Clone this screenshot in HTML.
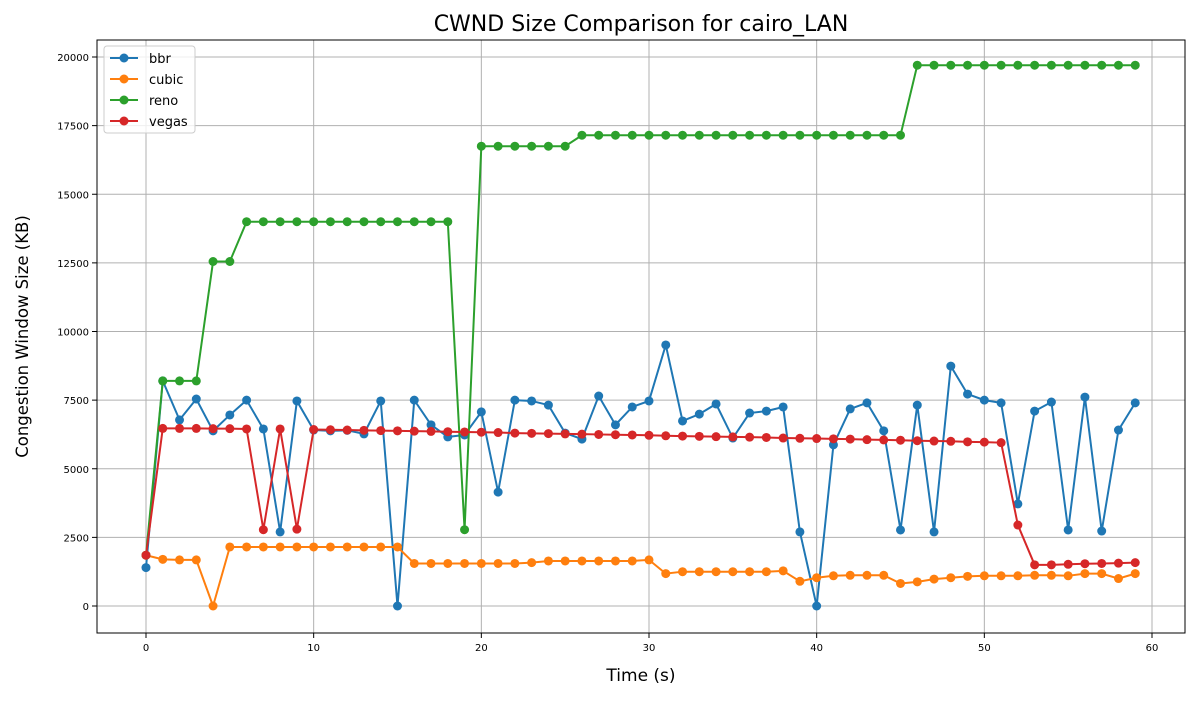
<!DOCTYPE html>
<html><head><meta charset="utf-8"><style>
body{margin:0;background:#fff;font-family:"Liberation Sans","DejaVu Sans",sans-serif}
svg text{font-family:"DejaVu Sans","Liberation Sans",sans-serif}
</style></head><body>
<svg id="chart" width="1200" height="700" xmlns="http://www.w3.org/2000/svg"></svg>
<script>
const timeSteps = Array.from({length:60},(_, i)=>i);
const bbrValues = [1400,8200,6780,7540,6380,6960,7500,6450,2700,7470,6410,6380,6400,6270,7470,0,7500,6600,6160,6230,7070,4150,7500,7470,7320,6300,6080,7650,6600,7250,7470,9510,6740,6990,7360,6120,7030,7100,7250,2700,0,5870,7180,7400,6380,2770,7320,2700,8740,7720,7500,7400,3720,7100,7430,2770,7610,2730,6410,7400];
const cubicValues = [1850,1700,1680,1680,0,2150,2150,2150,2150,2150,2150,2150,2150,2150,2150,2150,1550,1550,1550,1550,1550,1550,1550,1580,1640,1640,1640,1640,1640,1640,1680,1180,1250,1250,1250,1250,1250,1250,1280,900,1030,1100,1120,1120,1120,820,880,980,1030,1080,1100,1100,1100,1120,1120,1100,1180,1180,1000,1180];
const renoValues = [1850,8200,8200,8200,12550,12550,14000,14000,14000,14000,14000,14000,14000,14000,14000,14000,14000,14000,14000,2780,16750,16750,16750,16750,16750,16750,17150,17150,17150,17150,17150,17150,17150,17150,17150,17150,17150,17150,17150,17150,17150,17150,17150,17150,17150,17150,19700,19700,19700,19700,19700,19700,19700,19700,19700,19700,19700,19700,19700,19700];
const vegasValues = [1850,6470,6470,6470,6460,6460,6450,2780,6450,2800,6430,6420,6410,6400,6390,6380,6370,6360,6350,6340,6330,6320,6300,6290,6280,6270,6260,6250,6240,6230,6220,6200,6190,6180,6170,6160,6150,6140,6120,6110,6100,6090,6080,6060,6050,6040,6020,6010,6000,5980,5970,5950,2950,1500,1500,1520,1540,1550,1560,1580];
const xTicks = [0,10,20,30,40,50,60];
const yTicks = [0,2500,5000,7500,10000,12500,15000,17500,20000];
const seriesNames = ['bbr','cubic','reno','vegas'];
const seriesData = [bbrValues,cubicValues,renoValues,vegasValues];
const colors = ['#1f77b4','#ff7f0e','#2ca02c','#d62728'];

const L=97,R=1185,T=40,B=633;
const xs = v => 146 + v*(1152-146)/60;
const ys = v => 606 - v*(606-57)/20000;
const svg=document.getElementById('chart');
const NS='http://www.w3.org/2000/svg';
function mk(tag,attrs,parent){const e=document.createElementNS(NS,tag);for(const k in attrs)e.setAttribute(k,attrs[k]);(parent||svg).appendChild(e);return e;}

const grid=mk('g',{});


xTicks.forEach(t=>{
  mk('line',{x1:xs(t),x2:xs(t),y1:T,y2:B,stroke:'#b0b0b0','stroke-width':1},grid);
  mk('line',{x1:xs(t),x2:xs(t),y1:B,y2:B+5,stroke:'#000'});
  const tx=mk('text',{x:xs(t),y:B+18,'text-anchor':'middle','font-size':10});
  tx.textContent=t;
  
  
});
yTicks.forEach(t=>{
  mk('line',{x1:L,x2:R,y1:ys(t),y2:ys(t),stroke:'#b0b0b0','stroke-width':1},grid);
  mk('line',{x1:L-5,x2:L,y1:ys(t),y2:ys(t),stroke:'#000'});
  const tx=mk('text',{x:L-8,y:ys(t)+4,'text-anchor':'end','font-size':10});
  tx.textContent=t;
  
  
});

seriesData.forEach((d,si)=>{
  const g=mk('g',{});
  
  
  mk('polyline',{points:d.map((v,i)=>xs(timeSteps[i])+','+ys(v)).join(' '),fill:'none',stroke:colors[si],'stroke-width':2},g);
  d.forEach((v,i)=>{
    const c=mk('circle',{cx:xs(timeSteps[i]),cy:ys(v),r:4.5,fill:colors[si]},g);
    
    
  });
});

const frame=mk('rect',{x:L,y:T,width:R-L,height:B-T,fill:'none',stroke:'#000','stroke-width':1});



const title=mk('text',{x:(L+R)/2,y:31,'text-anchor':'middle','font-size':22});
title.textContent='CWND Size Comparison for cairo_LAN';


const xl=mk('text',{x:(L+R)/2,y:681,'text-anchor':'middle','font-size':17});
xl.textContent='Time (s)';


const yl=mk('text',{x:0,y:0,'text-anchor':'middle','font-size':16.5,transform:'translate(28,'+((T+B)/2)+') rotate(-90)'});
yl.textContent='Congestion Window Size (KB)';



const lg=mk('g',{});


mk('rect',{x:104,y:46,width:91,height:87,rx:3,fill:'#fff','fill-opacity':0.8,stroke:'#ccc'},lg);
seriesNames.forEach((n,i)=>{
  const y=58+i*21;
  const e=mk('g',{},lg);
  
  
  mk('line',{x1:110,x2:138,y1:y,y2:y,stroke:colors[i],'stroke-width':2},e);
  mk('circle',{cx:124,cy:y,r:4.5,fill:colors[i]},e);
  const t=mk('text',{x:149,y:y+5,'font-size':13},e);
  t.textContent=n;
});
</script>
</body></html>
